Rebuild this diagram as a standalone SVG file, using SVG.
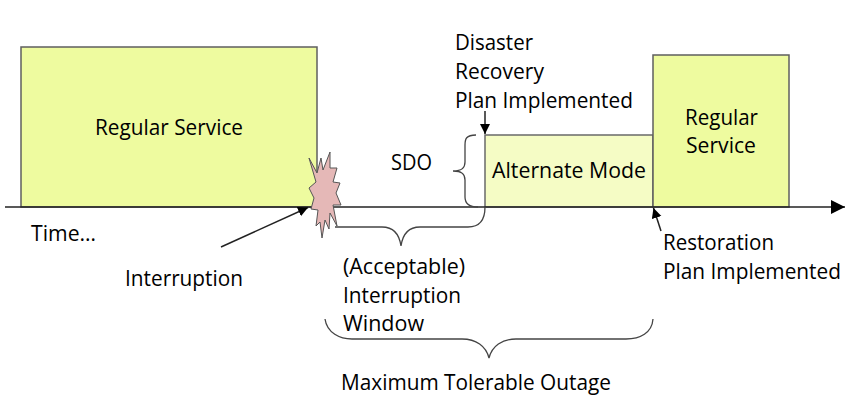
<svg xmlns="http://www.w3.org/2000/svg" width="868" height="401" viewBox="0 0 868 401">
<style>
.t{font-family:"Open Sans","Noto Sans",sans-serif;font-size:21px;fill:#000}
.box{fill:#eefb9f;stroke:#5f5f5f;stroke-width:1.5}
.alt{fill:#f5fcc5;stroke:#6a6a6a;stroke-width:1.5}
.br{fill:none;stroke:#444;stroke-width:1.3}
.ln{fill:none;stroke:#222;stroke-width:1.5}
</style>
<defs>
<marker id="a" markerUnits="userSpaceOnUse" markerWidth="12" markerHeight="12" refX="10" refY="5" orient="auto"><path d="M0 0L10 5L0 10Z" fill="#000"/></marker>
<marker id="b" markerUnits="userSpaceOnUse" markerWidth="16" markerHeight="16" refX="14" refY="7" orient="auto"><path d="M0 0L14 7L0 14Z" fill="#000"/></marker>
</defs>
<g id="service1"><rect class="box" x="21" y="47" width="296" height="160"/><text class="t" x="95" y="135" textLength="148" lengthAdjust="spacingAndGlyphs">Regular Service</text></g>
<g id="alternate"><rect class="alt" x="485" y="135" width="168" height="72"/><text class="t" x="492" y="178" textLength="154" lengthAdjust="spacingAndGlyphs">Alternate Mode</text></g>
<g id="service2"><rect class="box" x="653" y="55" width="136" height="152"/><text class="t" x="685" y="125" textLength="73" lengthAdjust="spacingAndGlyphs">Regular</text><text class="t" x="686" y="153" textLength="70" lengthAdjust="spacingAndGlyphs">Service</text></g>
<g id="connectors">
<path class="ln" d="M5 207H845" marker-end="url(#b)"/>
<path class="ln" d="M221 247L308 207.500" marker-end="url(#a)"/>
<path class="ln" d="M485 111V134" marker-end="url(#a)"/>
<path class="ln" d="M661 231L653.500 208" marker-end="url(#a)"/>
<path class="br" d="M476 135C466 135 465 139 465 145V162C465 168 462 171 453 171C462 171 465 174 465 180V197C465 203 468 207 478 207"/>
<path class="br" d="M335 227H382C392 227 399 232 401 246C403 232 410 227 420 227H468C480 227 485 220 485 207"/>
<path class="br" d="M325 319C327 333 340 339 352 339H462C476 339 486 346 489 358C492 346 502 339 516 339H626C640 339 652 333 653 319"/>
</g>
<g id="interruption"><polygon points="309,158 317,173 321,158 323,170 330,152 330,168 337,168 333,182 340,183 336,193 341,205 333,205 337,226 330,213 329,229 325,220 322,238 320,222 316,226 318,210 311,209 314,198 309,188 316,182" fill="#e5b8b7" stroke="#555" stroke-width="1"/></g>
<g id="labels">
<text class="t" x="455" y="50" textLength="78" lengthAdjust="spacingAndGlyphs">Disaster</text>
<text class="t" x="455" y="79" textLength="89" lengthAdjust="spacingAndGlyphs">Recovery</text>
<text class="t" x="455" y="108" textLength="178" lengthAdjust="spacingAndGlyphs">Plan Implemented</text>
<text class="t" x="391" y="170" textLength="41" lengthAdjust="spacingAndGlyphs">SDO</text>
<text class="t" x="31" y="241" textLength="65" lengthAdjust="spacingAndGlyphs">Time…</text>
<text class="t" x="125" y="286" textLength="118" lengthAdjust="spacingAndGlyphs">Interruption</text>
<text class="t" x="343" y="274" textLength="122" lengthAdjust="spacingAndGlyphs">(Acceptable)</text>
<text class="t" x="343" y="303" textLength="118" lengthAdjust="spacingAndGlyphs">Interruption</text>
<text class="t" x="343" y="331" textLength="81" lengthAdjust="spacingAndGlyphs">Window</text>
<text class="t" x="663" y="250" textLength="111" lengthAdjust="spacingAndGlyphs">Restoration</text>
<text class="t" x="663" y="279" textLength="178" lengthAdjust="spacingAndGlyphs">Plan Implemented</text>
<text class="t" x="341" y="390" textLength="270" lengthAdjust="spacingAndGlyphs">Maximum Tolerable Outage</text>
</g>
</svg>
